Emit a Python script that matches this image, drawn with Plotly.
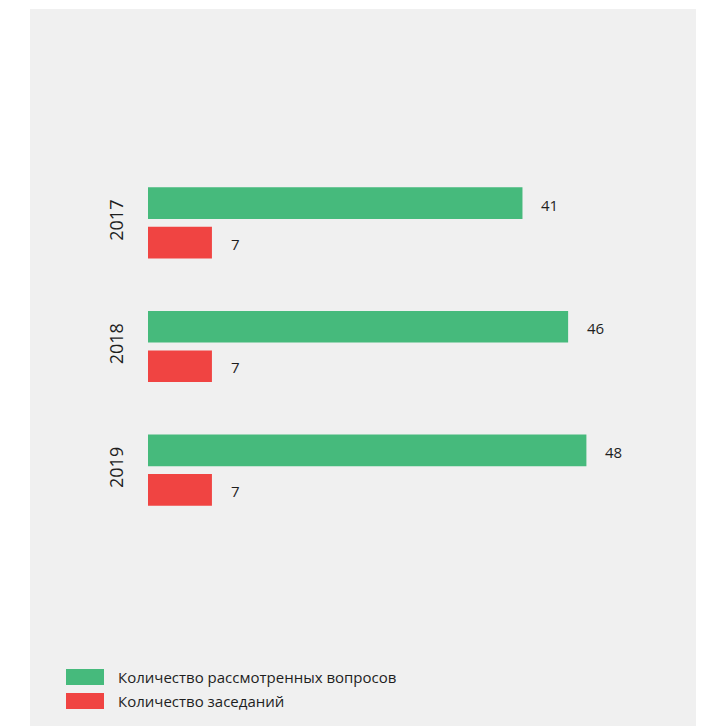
import plotly.graph_objects as go

# Data
years = ["2017", "2018", "2019"]
questions = [41, 46, 48]
meetings = [7, 7, 7]
series_names = ["Количество рассмотренных вопросов", "Количество заседаний"]

GREEN = "#46BA7C"
RED = "#F04442"
PANEL = "#F0F0F0"
TEXT = "#1e1e1e"
FONT = "Open Sans"

W, H = 707, 726
ML, MR, MT, MB = 148, 11, 9, 0
PW, PH = W - ML - MR, H - MT - MB


def px_x(px):
    return (px - ML) / PW


def px_y(py):
    return (H - MB - py) / PH


fig = go.Figure()
fig.add_trace(go.Bar(y=years, x=questions, orientation="h", name=series_names[0],
                     marker=dict(color=GREEN, line=dict(width=0)), showlegend=False))
fig.add_trace(go.Bar(y=years, x=meetings, orientation="h", name=series_names[1],
                     marker=dict(color=RED, line=dict(width=0)), showlegend=False))

# value labels beside each bar (y given as category index)
annotations = []
for vals, shift in ((questions, 18), (meetings, -21)):
    for idx, v in enumerate(vals):
        annotations.append(dict(x=v, y=idx, xref="x", yref="y", text=str(v),
                                showarrow=False, xanchor="left", yanchor="middle",
                                xshift=17, yshift=shift,
                                font=dict(family=FONT, size=15, color=TEXT)))

# legend drawn as swatches + labels
shapes = [dict(type="rect", xref="paper", yref="paper", layer="below",
               x0=px_x(30), x1=px_x(696), y0=px_y(9), y1=px_y(726),
               fillcolor=PANEL, line=dict(width=0))]
for i, (name, col) in enumerate(zip(series_names, [GREEN, RED])):
    top = 669 + i * 24
    shapes.append(dict(type="rect", xref="paper", yref="paper",
                       x0=px_x(66), x1=px_x(104), y0=px_y(top + 16), y1=px_y(top),
                       fillcolor=col, line=dict(width=0)))
    annotations.append(dict(x=px_x(116), y=px_y(top + 8), xref="paper", yref="paper",
                            text=name, showarrow=False, xanchor="left", yanchor="middle",
                            font=dict(family=FONT, size=15, color=TEXT)))

fig.update_layout(
    width=W, height=H,
    margin=dict(l=ML, r=MR, t=MT, b=MB),
    paper_bgcolor="white",
    plot_bgcolor="rgba(0,0,0,0)",
    barmode="group",
    bargap=0.36,
    bargroupgap=0.2,
    shapes=shapes,
    annotations=annotations,
    xaxis=dict(range=[0, 60], visible=False, showgrid=False, zeroline=False),
    yaxis=dict(type="category", range=[4.07, -1.73], showgrid=False, zeroline=False,
               showline=False, ticks="", tickangle=-90, ticklabelstandoff=20,
               tickfont=dict(family=FONT, size=18, color=TEXT)),
)

fig.write_html("out.html")
